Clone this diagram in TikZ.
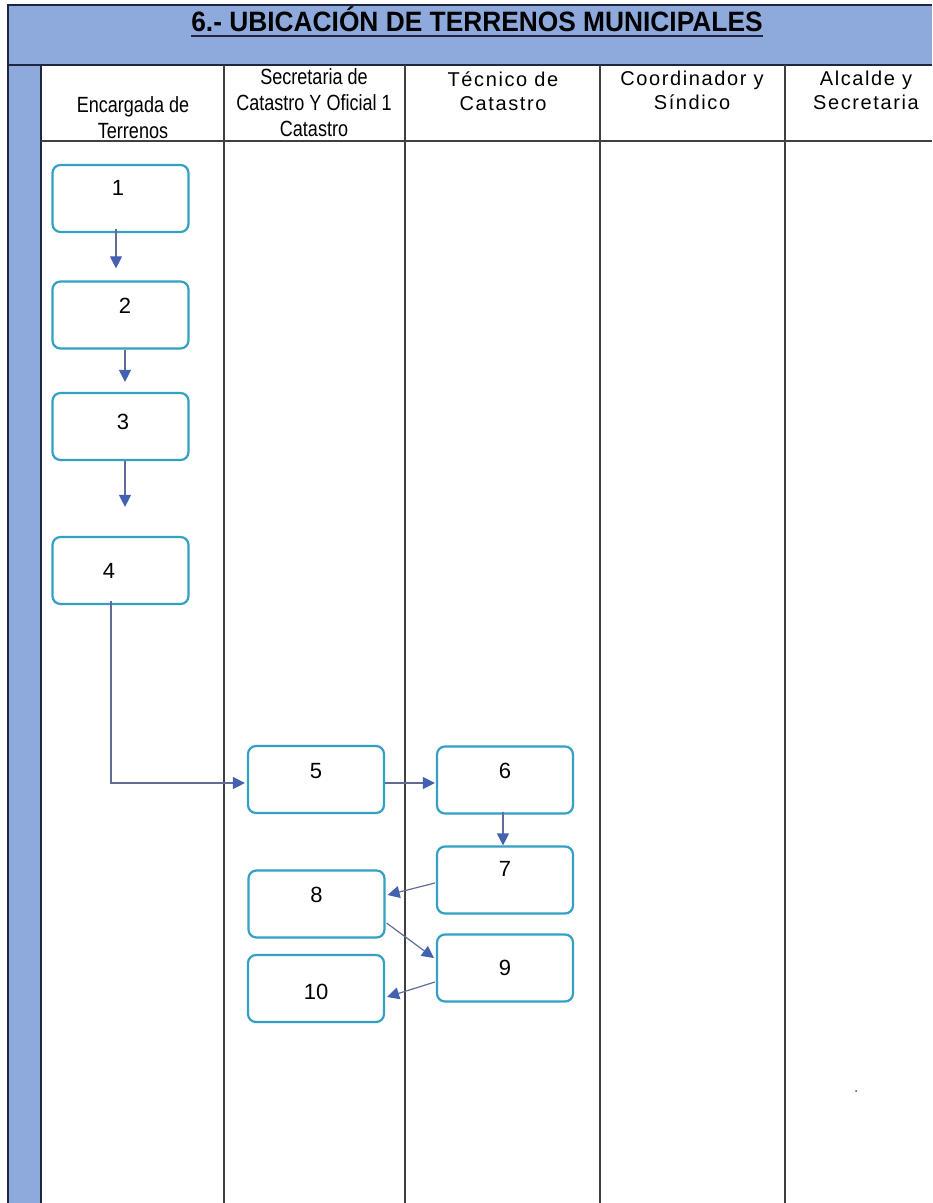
\documentclass[tikz,border=0pt]{standalone}
\usepackage{fontspec}
\setmainfont{Liberation Sans}
\newfontfamily\titlefont[FakeStretch=0.94]{Liberation Sans}
\newfontfamily\narrowfont[FakeStretch=0.82]{Liberation Sans}
\newfontfamily\spacedfont[LetterSpace=8]{Liberation Sans}
\usepackage{xcolor}
\usepackage{tikz}
\usetikzlibrary{arrows.meta,calc}
\definecolor{bandblue}{RGB}{142,169,219}
\definecolor{framenavy}{RGB}{30,38,66}
\definecolor{boxcyan}{RGB}{52,160,196}
\definecolor{flowline}{RGB}{96,108,150}
\definecolor{tipblue}{RGB}{68,96,176}

\begin{document}
\begin{tikzpicture}[x=0.5pt, y=-0.5pt,
  box/.style={draw=boxcyan, line width=1.1pt, rounded corners=4pt, minimum width=68pt, minimum height=33.5pt,
    inner sep=0pt, text height=7.9pt, text depth=0pt, font=\fontsize{11}{12}\selectfont},
  flow/.style={draw=flowline, line width=0.6pt, -{Triangle[length=6pt,width=6pt,color=tipblue]}},
  lane/.style={draw=black!75, line width=1pt},
  narrowhead/.style={anchor=north, align=center, inner sep=0pt, font=\narrowfont\fontsize{11}{13}\selectfont},
  spacedhead/.style={anchor=north, align=center, inner sep=0pt, font=\spacedfont\fontsize{10}{12}\selectfont}]
  \useasboundingbox (0,0) rectangle (932,1203);
  \fill[white] (0,0) rectangle (932,1203);
  \fill[bandblue] (8,5) rectangle (932,65);
  \fill[bandblue] (8,65) rectangle (41,1203);
  \draw[framenavy, line width=0.8pt] (932,5) -- (8,5) -- (8,1203);
  \draw[framenavy, line width=1pt] (8,65) -- (932,65);
  \draw[framenavy, line width=1.2pt] (41,65) -- (41,1203);
  \draw[lane] (41,141) -- (932,141);
  \foreach \x in {224,405,600,785}
    \draw[lane] (\x,65) -- (\x,1203);

  \node[font=\titlefont\bfseries\fontsize{14}{16}\selectfont, anchor=base, inner sep=0pt] (title) at (477,32)
    {6.- UBICACIÓN DE TERRENOS MUNICIPALES};
  \draw[framenavy, line width=1pt] ($(title.base west)+(0,4)$) -- ($(title.base east)+(0,4)$);

  \node[narrowhead] (h1) at (133,96) {Encargada de\\Terrenos};
  \node[narrowhead] (h2) at (314,68) {Secretaria de\\Catastro Y Oficial 1\\Catastro};
  \node[spacedhead] (h3) at (503,71) {Técnico de\\Catastro};
  \node[spacedhead] (h4) at (692,71) {Coordinador y\\Síndico};
  \node[spacedhead] (h5) at (866,71) {Alcalde y\\Secretaria};

  \node[box, text depth=11pt] (b1) at (120.5,198.5) {\hspace*{-2.5pt}1};
  \node[box, text depth=9pt] (b2) at (120.5,315) {\hspace*{4.5pt}2};
  \node[box, text depth=4.5pt] (b3) at (120.5,426.5) {\hspace*{2.5pt}3};
  \node[box] (b4) at (120.5,570.5) {\hspace*{-11.5pt}4};
  \node[box, text depth=9pt] (b5) at (316,779.5) {5};
  \node[box, text depth=9.5pt] (b6) at (505,780) {6};
  \node[box, text depth=11pt] (b7) at (505,880) {7};
  \node[box, text depth=9.5pt] (b8) at (316.5,904) {8};
  \node[box] (b9) at (505,968) {9};
  \node[box, text height=10.9pt] (b10) at (316,988.5) {10};

  \draw[flow] ($(b1.south)+(-4.5,-4)$) -- ($(b2.north)+(-4.5,-12)$);
  \draw[flow] ($(b2.south)+(4.5,0)$) -- ($(b3.north)+(4.5,-10)$);
  \draw[flow] ($(b3.south)+(4.5,0)$) -- ($(b4.north)+(4.5,-29)$);
  \draw[flow] ($(b4.south)+(-9.5,-4)$) |- ($(b5.west)+(-2,3.5)$);
  \draw[flow] ($(b5.east)+(0,3.5)$) -- ($(b6.west)+(-1,3)$);
  \draw[flow] ($(b6.south)+(-2,-3)$) -- ($(b7.north)+(-2,0)$);
  \draw[flow] ($(b7.west)+(-1,3)$) -- ($(b8.east)+(2,-9)$);
  \draw[flow] ($(b8.east)+(1,19)$) -- ($(b9.west)+(-2,-10)$);
  \draw[flow] ($(b9.west)+(-1,14)$) -- ($(b10.east)+(2,8.5)$);

  \fill[black!70] (856,1091) circle (1);
\end{tikzpicture}
\end{document}
